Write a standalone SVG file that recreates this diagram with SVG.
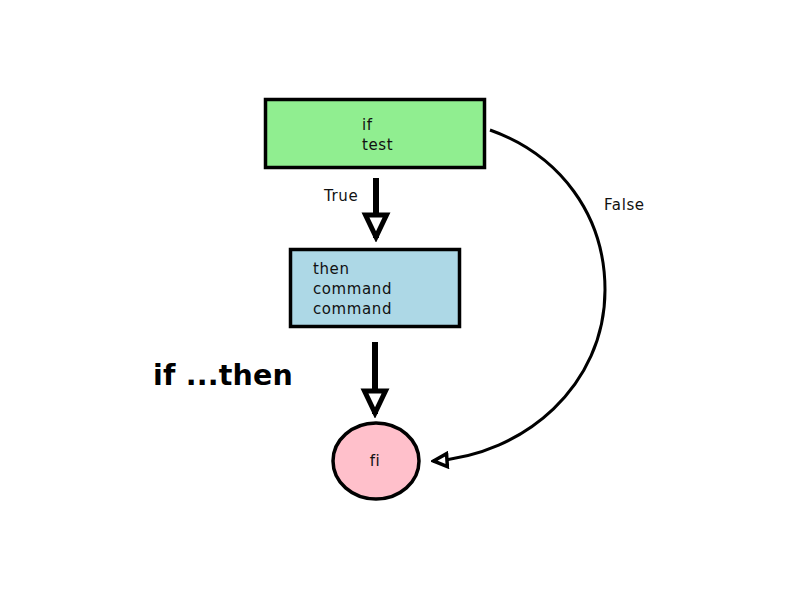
<svg xmlns="http://www.w3.org/2000/svg" width="800" height="600" viewBox="0 0 800 600">
<style>
.t{font-family:"DejaVu Sans",sans-serif;font-size:15px;fill:#111;letter-spacing:0.6px}
.node{stroke:#000;stroke-width:3.5}
.c{fill:none;stroke:#000}
</style>
<defs>
<marker id="ah" markerUnits="userSpaceOnUse" markerWidth="30" markerHeight="30" refX="26" refY="13" orient="auto" viewBox="0 0 30 26">
<polygon points="3,2.5 25,13 3,23.5" fill="#fff" stroke="#000" stroke-width="5" stroke-linejoin="miter"/>
</marker>
<marker id="ah2" markerUnits="userSpaceOnUse" markerWidth="18" markerHeight="18" refX="16" refY="9" orient="auto" viewBox="0 0 18 18">
<polygon points="2,2.5 15.5,9 2,15.5" fill="#fff" stroke="#000" stroke-width="3.5"/>
</marker>
</defs>
<rect width="800" height="600" fill="#fff"/>
<g id="connectors">
<line class="c" x1="376" y1="178" x2="376" y2="238" stroke-width="6" marker-end="url(#ah)"/>
<line class="c" x1="375" y1="342" x2="375" y2="414" stroke-width="6" marker-end="url(#ah)"/>
<path class="c" d="M490,130 C560,155 605,215 605,290 C605,385 525,455 433,461" stroke-width="3" marker-end="url(#ah2)"/>
<text class="t" x="324" y="201">True</text>
<text class="t" x="604" y="210">False</text>
</g>
<g id="if">
<rect class="node" x="265.5" y="99.5" width="219" height="68" fill="#90ee90"/>
<text class="t" x="362" y="130">if</text>
<text class="t" x="362" y="150">test</text>
</g>
<g id="then">
<rect class="node" x="290.5" y="249.5" width="169" height="77" fill="#add8e6"/>
<text class="t" x="313" y="274">then</text>
<text class="t" x="313" y="294">command</text>
<text class="t" x="313" y="314">command</text>
</g>
<g id="fi">
<ellipse class="node" cx="376" cy="461" rx="43" ry="38" fill="#ffc0cb"/>
<text class="t" x="375" y="466" text-anchor="middle">fi</text>
</g>
<g id="title">
<text x="153" y="385" style="font-family:'DejaVu Sans',sans-serif;font-size:28.5px;font-weight:bold;fill:#000;letter-spacing:0.2px">if ...then</text>
</g>
</svg>
